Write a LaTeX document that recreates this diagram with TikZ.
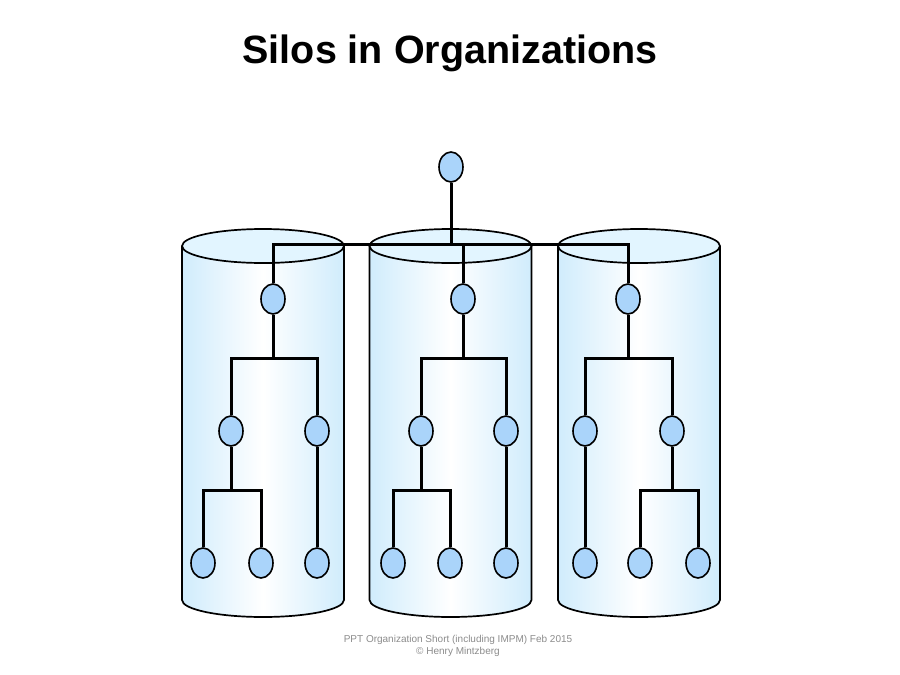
\documentclass[tikz,border=0pt]{standalone}
\usepackage{fontspec}
\setmainfont{Liberation Sans}
\usetikzlibrary{shapes.geometric}
\definecolor{nodeblue}{RGB}{170,212,250}
\definecolor{silo}{RGB}{208,236,252}
\definecolor{silotop}{RGB}{226,245,255}
\definecolor{footgray}{RGB}{140,140,140}
\pgfdeclarelayer{back}
\pgfsetlayers{back,main}
\tikzset{
 org/.style={ellipse, draw=black, line width=1.6pt, fill=nodeblue, minimum width=24pt, minimum height=30pt, inner sep=0pt},
 link/.style={line width=3pt, black},
 outline/.style={line width=1.7pt, black},
}
\newcommand\drawsilo[1]{%
 \shade[left color=silo, right color=silo, middle color=white]
   ({#1-81},246) -- ({#1-81},600) arc[start angle=180,end angle=360,x radius=81pt,y radius=17pt] -- ({#1+81},246) -- cycle;
 \draw[outline] ({#1-81},246) -- ({#1-81},600) arc[start angle=180,end angle=360,x radius=81pt,y radius=17pt] -- ({#1+81},246);
 \draw[outline, fill=silotop] (#1,246) ellipse[x radius=81pt, y radius=17pt];
}
\begin{document}
\begin{tikzpicture}[x=1pt,y=-1pt]
\useasboundingbox (0,0) rectangle (900,675);
\begin{pgfonlayer}{back}
\fill[white] (0,0) rectangle (900,675);
\drawsilo{263}
\drawsilo{450.5}
\drawsilo{639}
\end{pgfonlayer}

\node[font=\bfseries\fontsize{39.5}{46}\selectfont, anchor=base, inner sep=0pt] (title) at (450,63) {Silos in Organizations};
\node[font=\fontsize{10}{12.5}\selectfont, text=footgray, align=center] (foot) at (458,646) {PPT Organization Short (including IMPM) Feb 2015\\© Henry Mintzberg};

\node[org] (top) at (451,167) {};
\coordinate (hub) at (451,244);
% silo A
\node[org] (a1) at (273,299) {};
\coordinate (aj) at (273,358);
\node[org] (a2) at (231,431) {};
\node[org] (a3) at (317,431) {};
\coordinate (aj2) at (231,490);
\node[org] (a4) at (203,563) {};
\node[org] (a5) at (261,563) {};
\node[org] (a6) at (317,563) {};
% silo B
\node[org] (b1) at (463,299) {};
\coordinate (bj) at (463,358);
\node[org] (b2) at (421,431) {};
\node[org] (b3) at (506,431) {};
\coordinate (bj2) at (421,490);
\node[org] (b4) at (393,563) {};
\node[org] (b5) at (450,563) {};
\node[org] (b6) at (506,563) {};
% silo C
\node[org] (c1) at (628,299) {};
\coordinate (cj) at (628,358);
\node[org] (c2) at (585,431) {};
\node[org] (c3) at (672,431) {};
\coordinate (cj2) at (672,490);
\node[org] (c4) at (585,563) {};
\node[org] (c5) at (640,563) {};
\node[org] (c6) at (698,563) {};

\draw[link] (top) -- (hub);
\draw[link] (a1) |- (hub);
\draw[link] (b1) |- (hub);
\draw[link] (c1) |- (hub);

\draw[link] (a1) -- (aj);
\draw[link] (a2) |- (aj);
\draw[link] (a3) |- (aj);
\draw[link] (a2) -- (aj2);
\draw[link] (a4) |- (aj2);
\draw[link] (a5) |- (aj2);
\draw[link] (a3) -- (a6);

\draw[link] (b1) -- (bj);
\draw[link] (b2) |- (bj);
\draw[link] (b3) |- (bj);
\draw[link] (b2) -- (bj2);
\draw[link] (b4) |- (bj2);
\draw[link] (b5) |- (bj2);
\draw[link] (b3) -- (b6);

\draw[link] (c1) -- (cj);
\draw[link] (c2) |- (cj);
\draw[link] (c3) |- (cj);
\draw[link] (c2) -- (c4);
\draw[link] (c3) -- (cj2);
\draw[link] (c5) |- (cj2);
\draw[link] (c6) |- (cj2);
\end{tikzpicture}
\end{document}
